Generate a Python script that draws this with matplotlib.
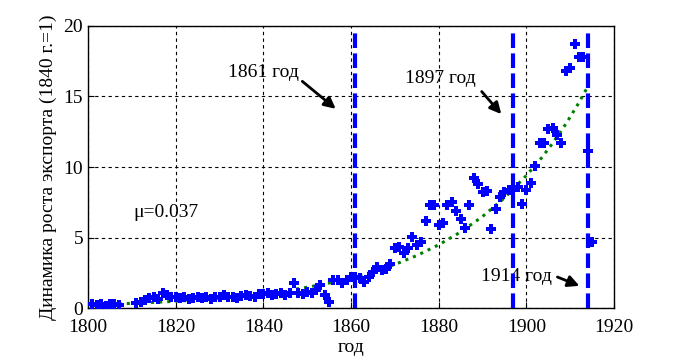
import matplotlib
matplotlib.use("Agg")
import matplotlib.pyplot as plt

plt.rcParams['font.family'] = ['Liberation Serif', 'DejaVu Serif']

# export growth index (1840 = 1)
years = [1801, 1802, 1803, 1804, 1805, 1806, 1807,
         1811, 1812, 1813, 1814, 1815, 1816, 1817, 1818, 1819,
         1820, 1821, 1822, 1823, 1824, 1825, 1826, 1827, 1828, 1829,
         1830, 1831, 1832, 1833, 1834, 1835, 1836, 1837, 1838, 1839,
         1840, 1841, 1842, 1843, 1844, 1845, 1846, 1847, 1848, 1849,
         1850, 1851, 1852, 1853, 1854, 1855, 1856, 1857, 1858, 1859,
         1860, 1861, 1862, 1863, 1864, 1865, 1866, 1867, 1868, 1869,
         1870, 1871, 1872, 1873, 1874, 1875, 1876, 1877, 1878, 1879,
         1880, 1881, 1882, 1883, 1884, 1885, 1886, 1887, 1888, 1889,
         1890, 1891, 1892, 1893, 1894, 1895, 1896, 1897, 1898, 1899,
         1900, 1901, 1902, 1903, 1904, 1905, 1906, 1907, 1908, 1909,
         1910, 1911, 1912, 1913, 1914, 1915]
export = [0.25, 0.2, 0.3, 0.15, 0.25, 0.3, 0.2,
          0.35, 0.45, 0.6, 0.7, 0.75, 0.65, 1.05, 0.9, 0.8,
          0.8, 0.7, 0.75, 0.65, 0.7, 0.75, 0.7, 0.8, 0.65, 0.75,
          0.8, 0.9, 0.75, 0.8, 0.7, 0.85, 0.9, 0.85, 0.8, 1.0,
          1.0, 1.1, 0.95, 1.0, 1.05, 0.95, 1.1, 1.75, 1.1, 1.0,
          1.15, 1.1, 1.3, 1.6, 0.9, 0.45, 2.0, 2.0, 1.8, 2.0,
          2.2, 2.2, 2.1, 1.85, 2.2, 2.55, 2.9, 2.7, 2.8, 3.1,
          4.25, 4.35, 3.9, 4.25, 5.05, 4.5, 4.7, 6.2, 7.3, 7.3,
          5.9, 6.0, 7.3, 7.5, 6.9, 6.3, 5.7, 7.3, 9.2, 8.8,
          8.2, 8.3, 5.6, 7.0, 7.9, 8.2, 8.4, 8.4, 8.6, 7.4,
          8.4, 8.9, 10.1, 11.7, 11.7, 12.7, 12.8, 12.3, 11.7, 16.8,
          17.0, 18.7, 17.8, 17.8, 11.1, 4.7]

# exponential trend (mu = 0.037)
fit_years = [1807, 1810, 1815, 1820, 1825, 1830, 1835, 1840, 1845, 1850,
             1855, 1860, 1865, 1870, 1875, 1880, 1885, 1890, 1895, 1900,
             1903, 1906, 1909, 1912, 1914]
fit_vals = [0.30, 0.33, 0.40, 0.48, 0.58, 0.70, 0.84, 1.02, 1.22, 1.47,
            1.77, 2.13, 2.57, 3.09, 3.72, 4.48, 5.39, 6.49, 7.81, 9.40,
            10.46, 11.69, 13.05, 14.57, 15.7]

event_years = [1861, 1897, 1914]

fig = plt.figure(figsize=(6.8, 3.6), dpi=100)
ax = fig.add_axes([0.1294, 0.1444, 0.7736, 0.7834])

ax.plot(fit_years, fit_vals, ':', color=(0, 0.5, 0), lw=2.2, zorder=2)
ax.plot(years, export, 'P', color='blue', ms=7, mew=0, zorder=3)

for yr in event_years:
    ax.plot([yr, yr], [0, 19.8], '--', color='blue', lw=3, dashes=(3.5, 1.3), zorder=4)

ax.set_xlim(1800, 1920)
ax.set_ylim(0, 20)
ax.set_xticks(range(1800, 1921, 20))
ax.set_yticks(range(0, 21, 5))
ax.grid(True, color='black', linestyle=(0, (3, 3)), lw=0.8)
ax.tick_params(direction='in', labelsize=14, length=4)
ax.tick_params(axis='x', pad=8)
for sp in ax.spines.values():
    sp.set_linewidth(1)

ax.set_xlabel('год', fontsize=14, labelpad=2)
ax.set_ylabel('Динамика роста экспорта (1840 г.=1)', fontsize=14, labelpad=5)

arrow = dict(arrowstyle='-|>', color='black', lw=2, mutation_scale=17)
ax.text(1831.9, 16.7, '1861 год', fontsize=14, va='center', ha='left')
ax.annotate('', xy=(1857.0, 14.0), xytext=(1848.4, 16.2), arrowprops=arrow)
ax.text(1872.3, 16.3, '1897 год', fontsize=14, va='center', ha='left')
ax.annotate('', xy=(1894.7, 13.6), xytext=(1889.4, 15.5), arrowprops=arrow)
ax.text(1889.7, 2.2, '1914 год', fontsize=14, va='center', ha='left')
ax.annotate('', xy=(1912.7, 1.5), xytext=(1906.5, 2.27), arrowprops=arrow)
ax.text(1810.3, 6.8, 'μ=0.037', fontsize=14, va='center', ha='left')

fig.savefig('out.png', dpi=100)
